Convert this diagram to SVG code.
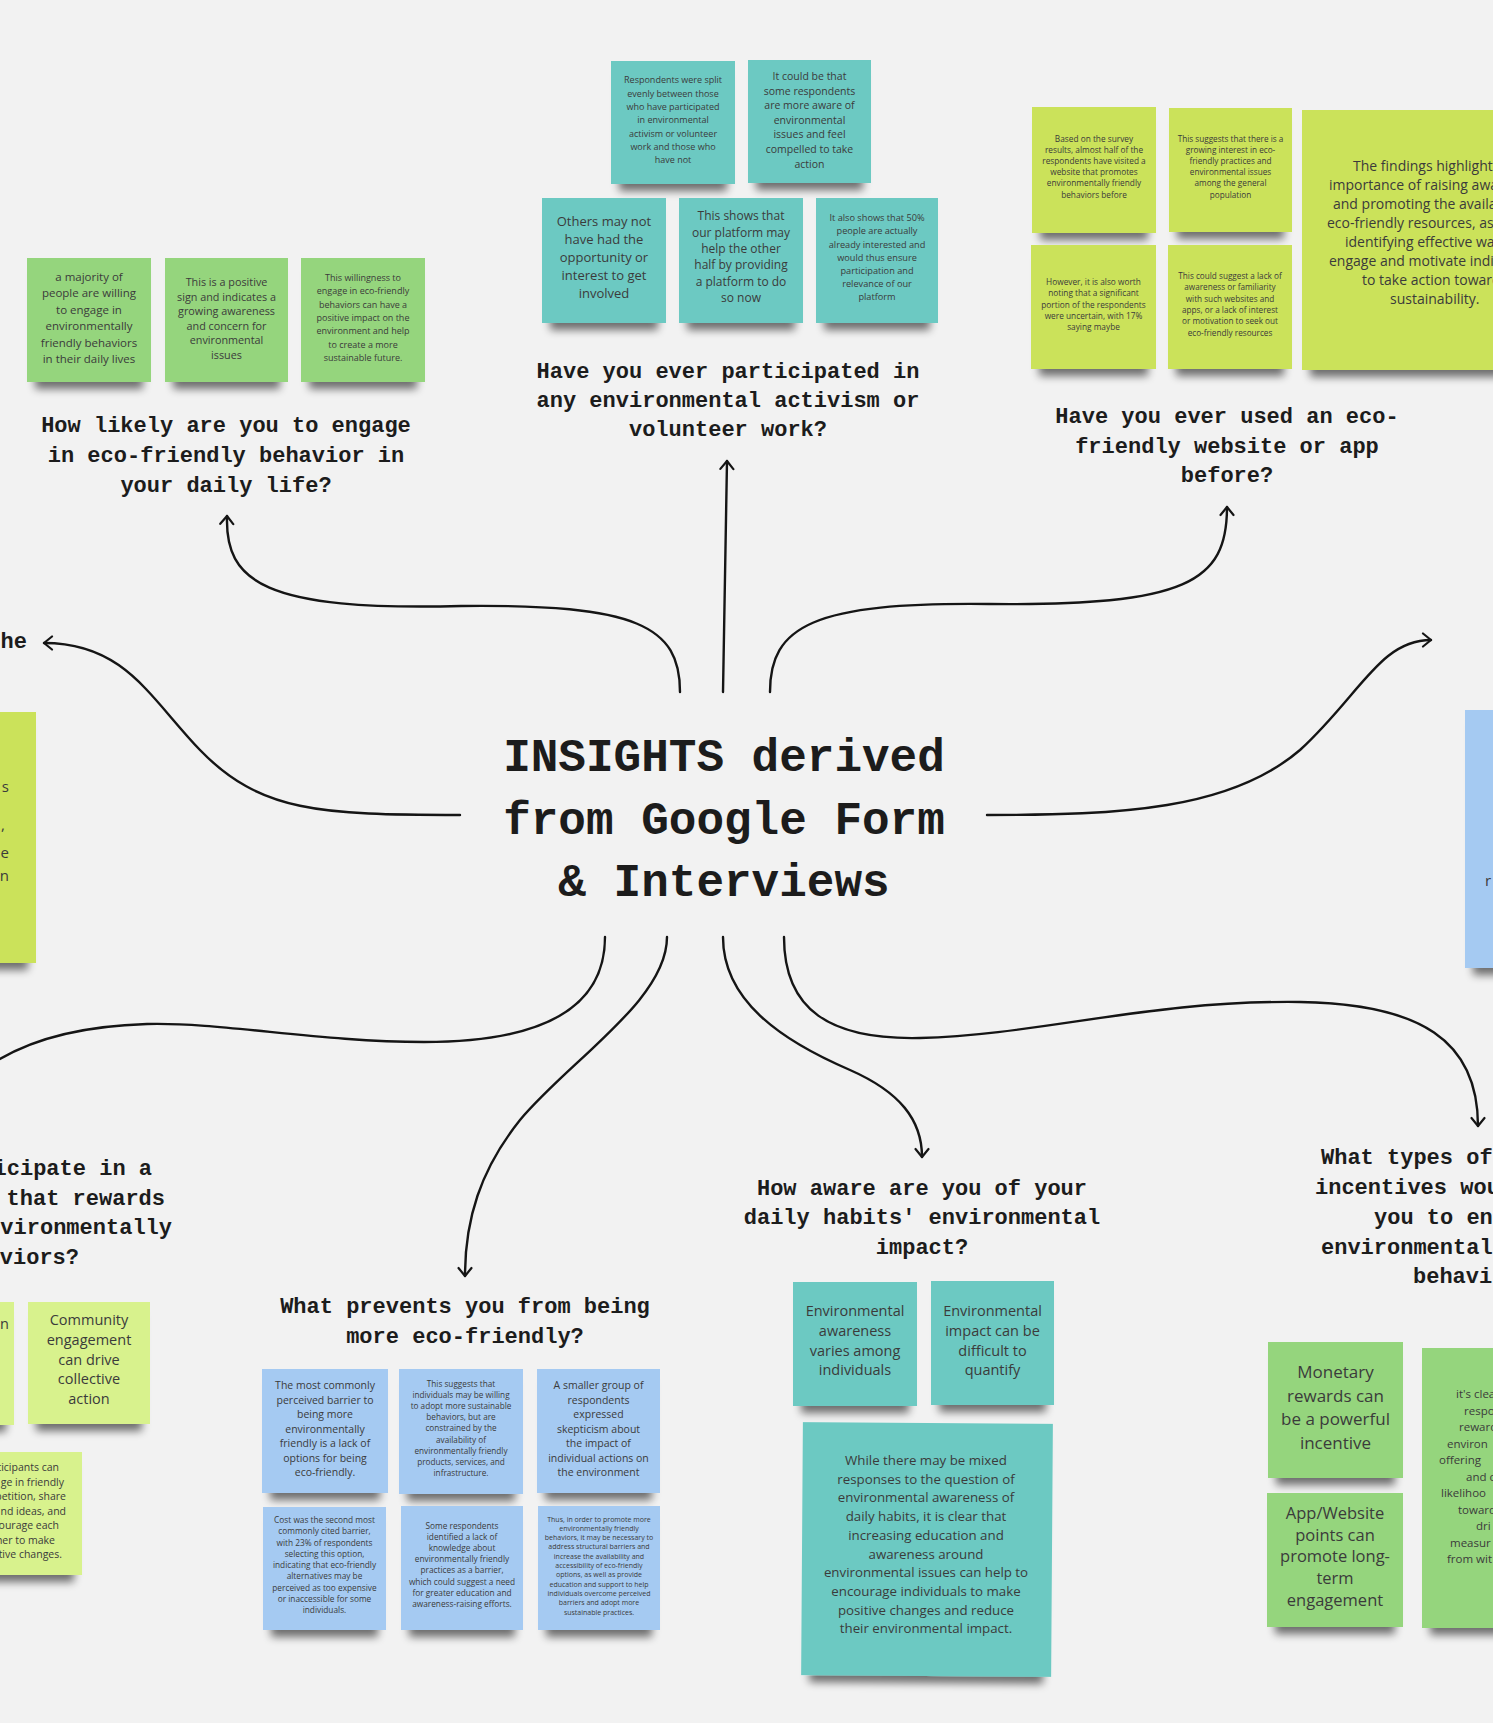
<svg xmlns="http://www.w3.org/2000/svg" width="1493" height="1723" viewBox="0 0 1493 1723">
<style>
.q{font-family:"Liberation Mono","DejaVu Sans Mono",monospace;font-weight:700;font-size:22px;fill:#1c1c1c}
.t{font-family:"Liberation Mono","DejaVu Sans Mono",monospace;font-weight:700;font-size:46px;fill:#1c1c1c}
.n{font-family:"Open Sans","Noto Sans",sans-serif;fill:#3b3b3b}
.c{text-anchor:middle}
.e{text-anchor:end}
.tl{fill:#6cc9c2}.gr{fill:#95d57d}.yg{fill:#cbe25a}.ly{fill:#d8f28d}.bl{fill:#a5caf2}
.s{filter:url(#sh)}
.k{fill:none;stroke:#151515;stroke-width:2.4;stroke-linecap:round;marker-end:url(#ah)}
</style>
<defs>
<filter id="sh" x="-10%" y="-10%" width="120%" height="135%">
<feMorphology in="SourceAlpha" operator="erode" radius="8 2" result="e"/>
<feOffset in="e" dy="9" result="o"/>
<feGaussianBlur in="o" stdDeviation="4" result="b"/>
<feComponentTransfer in="b" result="sd"><feFuncA type="linear" slope="0.55"/></feComponentTransfer>
<feMerge><feMergeNode in="sd"/><feMergeNode in="SourceGraphic"/></feMerge>
</filter>
<marker id="ah" viewBox="0 0 16 16" refX="13" refY="8" markerWidth="16" markerHeight="16" markerUnits="userSpaceOnUse" orient="auto">
<path d="M5,1.5 L13,8 L5,14.5" fill="none" stroke="#151515" stroke-width="2.2" stroke-linecap="round" stroke-linejoin="round"/>
</marker>
</defs>
<rect width="1493" height="1723" fill="#f2f2f2"/>

<g id="connectors">
<path class="k" d="M680,692 C680,626 637,604 461,606 C264,611 225,582 227,516"/>
<path class="k" d="M723,692 C724,600 726,520 727,461"/>
<path class="k" d="M770,692 C770,626 813,602 989,604 C1187,606 1227,582 1227,507"/>
<path class="k" d="M460,815 C320,815 260,812 200,750 C150,698 125,643 44,643"/>
<path class="k" d="M987,815 C1120,815 1230,810 1300,750 C1360,695 1380,640 1431,640"/>
<path class="k" style="marker-end:none" d="M605,937 C605,1010 540,1042 424,1042 C320,1042 220,1022 147,1024 C80,1026 30,1040 -5,1062"/>
<path class="k" d="M667,937 C667,1000 570,1060 520,1120 C480,1170 465,1220 465,1276"/>
<path class="k" d="M723,937 C723,1000 780,1040 850,1070 C900,1092 922,1120 922,1157"/>
<path class="k" d="M784,937 C784,1010 830,1040 920,1038 C1040,1035 1150,1000 1300,1002 C1420,1004 1478,1040 1478,1126"/>
</g>

<g id="center">
<text class="t c" x="724" y="771">INSIGHTS derived</text>
<text class="t c" x="724" y="834">from Google Form</text>
<text class="t c" x="724" y="896">&amp; Interviews</text>
</g>

<!-- top center: activism -->
<g id="q-activism">
<text class="q c" x="728" y="378">Have you ever participated in</text>
<text class="q c" x="728" y="407">any environmental activism or</text>
<text class="q c" x="728" y="436">volunteer work?</text>
</g>
<g id="n-activism-1"><rect class="tl s" x="611" y="61" width="124" height="123"/>
<text class="n c" x="673" y="83.3" font-size="9"><tspan x="673">Respondents were split</tspan><tspan x="673" dy="13.3">evenly between those</tspan><tspan x="673" dy="13.3">who have participated</tspan><tspan x="673" dy="13.3">in environmental</tspan><tspan x="673" dy="13.3">activism or volunteer</tspan><tspan x="673" dy="13.3">work and those who</tspan><tspan x="673" dy="13.3">have not</tspan></text></g>
<g id="n-activism-2"><rect class="tl s" x="748" y="60" width="123" height="123"/>
<text class="n c" x="809.5" y="80" font-size="10.5"><tspan x="809.5">It could be that</tspan><tspan x="809.5" dy="14.6">some respondents</tspan><tspan x="809.5" dy="14.6">are more aware of</tspan><tspan x="809.5" dy="14.6">environmental</tspan><tspan x="809.5" dy="14.6">issues and feel</tspan><tspan x="809.5" dy="14.6">compelled to take</tspan><tspan x="809.5" dy="14.6">action</tspan></text></g>
<g id="n-activism-3"><rect class="tl s" x="542" y="198" width="124" height="125"/>
<text class="n c" x="604" y="225.5" font-size="13"><tspan x="604">Others may not</tspan><tspan x="604" dy="18.2">have had the</tspan><tspan x="604" dy="18.2">opportunity or</tspan><tspan x="604" dy="18.2">interest to get</tspan><tspan x="604" dy="18.2">involved</tspan></text></g>
<g id="n-activism-4"><rect class="tl s" x="679" y="198" width="124" height="125"/>
<text class="n c" x="741" y="220.3" font-size="12"><tspan x="741">This shows that</tspan><tspan x="741" dy="16.3">our platform may</tspan><tspan x="741" dy="16.3">help the other</tspan><tspan x="741" dy="16.3">half by providing</tspan><tspan x="741" dy="16.3">a platform to do</tspan><tspan x="741" dy="16.3">so now</tspan></text></g>
<g id="n-activism-5"><rect class="tl s" x="816" y="198" width="122" height="125"/>
<text class="n c" x="877" y="221.2" font-size="9.2"><tspan x="877">It also shows that 50%</tspan><tspan x="877" dy="13.2">people are actually</tspan><tspan x="877" dy="13.2">already interested and</tspan><tspan x="877" dy="13.2">would thus ensure</tspan><tspan x="877" dy="13.2">participation and</tspan><tspan x="877" dy="13.2">relevance of our</tspan><tspan x="877" dy="13.2">platform</tspan></text></g>

<!-- top left: likely -->
<g id="q-likely">
<text class="q c" x="226" y="432">How likely are you to engage</text>
<text class="q c" x="226" y="462">in eco-friendly behavior in</text>
<text class="q c" x="226" y="492">your daily life?</text>
</g>
<g id="n-likely-1"><rect class="gr s" x="27" y="258" width="124" height="124"/>
<text class="n c" x="89" y="281" font-size="11.5"><tspan x="89">a majority of</tspan><tspan x="89" dy="16.4">people are willing</tspan><tspan x="89" dy="16.4">to engage in</tspan><tspan x="89" dy="16.4">environmentally</tspan><tspan x="89" dy="16.4">friendly behaviors</tspan><tspan x="89" dy="16.4">in their daily lives</tspan></text></g>
<g id="n-likely-2"><rect class="gr s" x="165" y="258" width="123" height="124"/>
<text class="n c" x="226.5" y="286" font-size="10.8"><tspan x="226.5">This is a positive</tspan><tspan x="226.5" dy="14.5">sign and indicates a</tspan><tspan x="226.5" dy="14.5">growing awareness</tspan><tspan x="226.5" dy="14.5">and concern for</tspan><tspan x="226.5" dy="14.5">environmental</tspan><tspan x="226.5" dy="14.5">issues</tspan></text></g>
<g id="n-likely-3"><rect class="gr s" x="301" y="258" width="124" height="124"/>
<text class="n c" x="363" y="281" font-size="9"><tspan x="363">This willingness to</tspan><tspan x="363" dy="13.3">engage in eco-friendly</tspan><tspan x="363" dy="13.3">behaviors can have a</tspan><tspan x="363" dy="13.3">positive impact on the</tspan><tspan x="363" dy="13.3">environment and help</tspan><tspan x="363" dy="13.3">to create a more</tspan><tspan x="363" dy="13.3">sustainable future.</tspan></text></g>

<!-- top right: website -->
<g id="q-website">
<text class="q c" x="1227" y="423">Have you ever used an eco-</text>
<text class="q c" x="1227" y="453">friendly website or app</text>
<text class="q c" x="1227" y="482">before?</text>
</g>
<g id="n-website-1"><rect class="yg s" x="1032" y="107" width="124" height="126"/>
<text class="n c" x="1094" y="142" font-size="8.3"><tspan x="1094">Based on the survey</tspan><tspan x="1094" dy="11.1">results,  almost half of the</tspan><tspan x="1094" dy="11.1">respondents have visited a</tspan><tspan x="1094" dy="11.1">website that promotes</tspan><tspan x="1094" dy="11.1">environmentally friendly</tspan><tspan x="1094" dy="11.1">behaviors before</tspan></text></g>
<g id="n-website-2"><rect class="yg s" x="1169" y="108" width="123" height="124"/>
<text class="n c" x="1230.5" y="142" font-size="8.2"><tspan x="1230.5">This suggests that there is a</tspan><tspan x="1230.5" dy="11.1">growing interest in eco-</tspan><tspan x="1230.5" dy="11.1">friendly practices and</tspan><tspan x="1230.5" dy="11.1">environmental issues</tspan><tspan x="1230.5" dy="11.1">among the general</tspan><tspan x="1230.5" dy="11.1">population</tspan></text></g>
<g id="n-website-3"><rect class="yg s" x="1031" y="245" width="125" height="124"/>
<text class="n c" x="1093.5" y="285" font-size="8.3"><tspan x="1093.5">However, it is also worth</tspan><tspan x="1093.5" dy="11.3">noting that a significant</tspan><tspan x="1093.5" dy="11.3">portion of the respondents</tspan><tspan x="1093.5" dy="11.3">were uncertain, with 17%</tspan><tspan x="1093.5" dy="11.3">saying maybe</tspan></text></g>
<g id="n-website-4"><rect class="yg s" x="1168" y="245" width="124" height="124"/>
<text class="n c" x="1230" y="279" font-size="8.2"><tspan x="1230">This could suggest a lack of</tspan><tspan x="1230" dy="11.3">awareness or familiarity</tspan><tspan x="1230" dy="11.3">with such websites and</tspan><tspan x="1230" dy="11.3">apps, or a lack of interest</tspan><tspan x="1230" dy="11.3">or motivation to seek out</tspan><tspan x="1230" dy="11.3">eco-friendly resources</tspan></text></g>
<g id="n-website-5"><rect class="yg s" x="1302" y="110" width="262" height="260"/>
<text class="n" font-size="14"><tspan x="1353" y="171">The findings highlight</tspan><tspan x="1329" y="190">importance of raising awa</tspan><tspan x="1333" y="209">and promoting the availab</tspan><tspan x="1327" y="228">eco-friendly resources, as</tspan><tspan x="1345" y="247">identifying effective way</tspan><tspan x="1329" y="266">engage and motivate indiv</tspan><tspan x="1362" y="285">to take action toward</tspan><tspan x="1390" y="304">sustainability.</tspan></text></g>

<!-- left middle -->
<g id="q-left-mid"><text class="q e" x="27" y="648">he</text></g>
<g id="n-left-mid"><rect class="yg s" x="-100" y="712" width="136" height="251"/>
<text class="n e" font-size="15"><tspan x="9" y="792">s</tspan><tspan x="5" y="830">,</tspan><tspan x="9" y="858">e</tspan><tspan x="9" y="881">n</tspan></text></g>

<!-- right middle -->
<g id="n-right-mid"><rect class="bl s" x="1465" y="710" width="140" height="258"/>
<text class="n" font-size="15" x="1485" y="886">r</text></g>

<!-- bottom left: rewards program -->
<g id="q-program">
<text class="q e" x="152" y="1175">icipate in a</text>
<text class="q e" x="165" y="1205">that rewards</text>
<text class="q e" x="172" y="1234">vironmentally</text>
<text class="q e" x="79" y="1264">viors?</text>
</g>
<g id="n-program-1"><rect class="ly s" x="-110" y="1302" width="124" height="123"/>
<text class="n e" font-size="14.5" x="9" y="1329">n</text></g>
<g id="n-program-2"><rect class="ly s" x="28" y="1302" width="122" height="122"/>
<text class="n c" x="89" y="1325" font-size="14.5"><tspan x="89">Community</tspan><tspan x="89" dy="19.8">engagement</tspan><tspan x="89" dy="19.8">can drive</tspan><tspan x="89" dy="19.8">collective</tspan><tspan x="89" dy="19.8">action</tspan></text></g>
<g id="n-program-3"><rect class="ly s" x="-44" y="1452" width="126" height="123"/>
<text class="n e" font-size="10.5"><tspan x="59" y="1471">ticipants can</tspan><tspan x="64" y="1485.5">ge in friendly</tspan><tspan x="66" y="1500">petition, share</tspan><tspan x="66" y="1514.5">nd ideas, and</tspan><tspan x="59" y="1529">ourage each</tspan><tspan x="55" y="1543.5">her to make</tspan><tspan x="62" y="1558">tive changes.</tspan></text></g>

<!-- bottom center: prevents -->
<g id="q-prevents">
<text class="q c" x="465" y="1313">What prevents you from being</text>
<text class="q c" x="465" y="1343">more eco-friendly?</text>
</g>
<g id="n-prevents-1"><rect class="bl s" x="262" y="1369" width="126" height="124"/>
<text class="n c" x="325" y="1389" font-size="10.5"><tspan x="325">The most commonly</tspan><tspan x="325" dy="14.5">perceived barrier to</tspan><tspan x="325" dy="14.5">being more</tspan><tspan x="325" dy="14.5">environmentally</tspan><tspan x="325" dy="14.5">friendly is a lack of</tspan><tspan x="325" dy="14.5">options for being</tspan><tspan x="325" dy="14.5">eco-friendly.</tspan></text></g>
<g id="n-prevents-2"><rect class="bl s" x="399" y="1369" width="124" height="125"/>
<text class="n c" x="461" y="1387" font-size="8.2"><tspan x="461">This suggests that</tspan><tspan x="461" dy="11.1">individuals may be willing</tspan><tspan x="461" dy="11.1">to adopt more sustainable</tspan><tspan x="461" dy="11.1">behaviors, but are</tspan><tspan x="461" dy="11.1">constrained by the</tspan><tspan x="461" dy="11.1">availability of</tspan><tspan x="461" dy="11.1">environmentally friendly</tspan><tspan x="461" dy="11.1">products, services, and</tspan><tspan x="461" dy="11.1">infrastructure.</tspan></text></g>
<g id="n-prevents-3"><rect class="bl s" x="537" y="1369" width="123" height="124"/>
<text class="n c" x="598.5" y="1389" font-size="10.5"><tspan x="598.5">A smaller group of</tspan><tspan x="598.5" dy="14.5">respondents</tspan><tspan x="598.5" dy="14.5">expressed</tspan><tspan x="598.5" dy="14.5">skepticism about</tspan><tspan x="598.5" dy="14.5">the impact of</tspan><tspan x="598.5" dy="14.5">individual actions on</tspan><tspan x="598.5" dy="14.5">the environment</tspan></text></g>
<g id="n-prevents-4"><rect class="bl s" x="263" y="1507" width="123" height="123"/>
<text class="n c" x="324.5" y="1523" font-size="8.3"><tspan x="324.5">Cost was the second most</tspan><tspan x="324.5" dy="11.25">commonly cited barrier,</tspan><tspan x="324.5" dy="11.25">with 23% of respondents</tspan><tspan x="324.5" dy="11.25">selecting this option,</tspan><tspan x="324.5" dy="11.25">indicating that eco-friendly</tspan><tspan x="324.5" dy="11.25">alternatives may be</tspan><tspan x="324.5" dy="11.25">perceived as too expensive</tspan><tspan x="324.5" dy="11.25">or inaccessible for some</tspan><tspan x="324.5" dy="11.25">individuals.</tspan></text></g>
<g id="n-prevents-5"><rect class="bl s" x="401" y="1506" width="122" height="124"/>
<text class="n c" x="462" y="1529" font-size="8.3"><tspan x="462">Some respondents</tspan><tspan x="462" dy="11.1">identified a lack of</tspan><tspan x="462" dy="11.1">knowledge about</tspan><tspan x="462" dy="11.1">environmentally friendly</tspan><tspan x="462" dy="11.1">practices as a barrier,</tspan><tspan x="462" dy="11.1">which could suggest a need</tspan><tspan x="462" dy="11.1">for greater education and</tspan><tspan x="462" dy="11.1">awareness-raising efforts.</tspan></text></g>
<g id="n-prevents-6"><rect class="bl s" x="538" y="1506" width="122" height="124"/>
<text class="n c" x="599" y="1521.5" font-size="7"><tspan x="599">Thus, in order to promote more</tspan><tspan x="599" dy="9.3">environmentally friendly</tspan><tspan x="599" dy="9.3">behaviors, it may be necessary to</tspan><tspan x="599" dy="9.3">address structural barriers and</tspan><tspan x="599" dy="9.3">increase the availability and</tspan><tspan x="599" dy="9.3">accessibility of eco-friendly</tspan><tspan x="599" dy="9.3">options, as well as provide</tspan><tspan x="599" dy="9.3">education and support to help</tspan><tspan x="599" dy="9.3">individuals overcome perceived</tspan><tspan x="599" dy="9.3">barriers and adopt more</tspan><tspan x="599" dy="9.3">sustainable practices.</tspan></text></g>

<!-- bottom: awareness -->
<g id="q-aware">
<text class="q c" x="922" y="1195">How aware are you of your</text>
<text class="q c" x="922" y="1224">daily habits' environmental</text>
<text class="q c" x="922" y="1254">impact?</text>
</g>
<g id="n-aware-1"><rect class="tl s" x="793" y="1282" width="124" height="124"/>
<text class="n c" x="855" y="1316" font-size="14.5"><tspan x="855">Environmental</tspan><tspan x="855" dy="19.8">awareness</tspan><tspan x="855" dy="19.8">varies among</tspan><tspan x="855" dy="19.8">individuals</tspan></text></g>
<g id="n-aware-2"><rect class="tl s" x="931" y="1281" width="123" height="124"/>
<text class="n c" x="992.5" y="1316" font-size="14.5"><tspan x="992.5">Environmental</tspan><tspan x="992.5" dy="19.8">impact can be</tspan><tspan x="992.5" dy="19.8">difficult to</tspan><tspan x="992.5" dy="19.8">quantify</tspan></text></g>
<g id="n-aware-3"><rect class="tl s" x="802" y="1423" width="250" height="253" transform="rotate(0.4 927 1550)"/>
<text class="n c" x="926" y="1465" font-size="13.3"><tspan x="926">While there may be mixed</tspan><tspan x="926" dy="18.7">responses to the question of</tspan><tspan x="926" dy="18.7">environmental awareness of</tspan><tspan x="926" dy="18.7">daily habits, it is clear that</tspan><tspan x="926" dy="18.7">increasing education and</tspan><tspan x="926" dy="18.7">awareness around</tspan><tspan x="926" dy="18.7">environmental issues can help to</tspan><tspan x="926" dy="18.7">encourage individuals to make</tspan><tspan x="926" dy="18.7">positive changes and reduce</tspan><tspan x="926" dy="18.7">their environmental impact.</tspan></text></g>

<!-- bottom right: incentives -->
<g id="q-incentives">
<text class="q" x="1321" y="1164">What types of</text>
<text class="q" x="1315" y="1194">incentives wou</text>
<text class="q" x="1374" y="1224">you to en</text>
<text class="q" x="1321" y="1254">environmental</text>
<text class="q" x="1413" y="1283">behavi</text>
</g>
<g id="n-incentives-1"><rect class="gr s" x="1268" y="1342" width="135" height="136"/>
<text class="n c" x="1335.5" y="1378" font-size="17"><tspan x="1335.5">Monetary</tspan><tspan x="1335.5" dy="23.7">rewards can</tspan><tspan x="1335.5" dy="23.7">be a powerful</tspan><tspan x="1335.5" dy="23.7">incentive</tspan></text></g>
<g id="n-incentives-2"><rect class="gr s" x="1267" y="1493" width="136" height="134"/>
<text class="n c" x="1335" y="1519" font-size="16.5"><tspan x="1335">App/Website</tspan><tspan x="1335" dy="21.7">points can</tspan><tspan x="1335" dy="21.7">promote long-</tspan><tspan x="1335" dy="21.7">term</tspan><tspan x="1335" dy="21.7">engagement</tspan></text></g>
<g id="n-incentives-3"><rect class="gr s" x="1422" y="1348" width="200" height="280"/>
<text class="n" font-size="11.5"><tspan x="1456" y="1398">it's clea</tspan><tspan x="1464" y="1414.5">respo</tspan><tspan x="1459" y="1431">reward</tspan><tspan x="1447" y="1447.5">environ</tspan><tspan x="1439" y="1464">offering</tspan><tspan x="1466" y="1480.5">and c</tspan><tspan x="1441" y="1497">likelihoo</tspan><tspan x="1458" y="1513.5">toward</tspan><tspan x="1476" y="1530">dri</tspan><tspan x="1450" y="1546.5">measur</tspan><tspan x="1447" y="1563">from wit</tspan></text></g>
</svg>
